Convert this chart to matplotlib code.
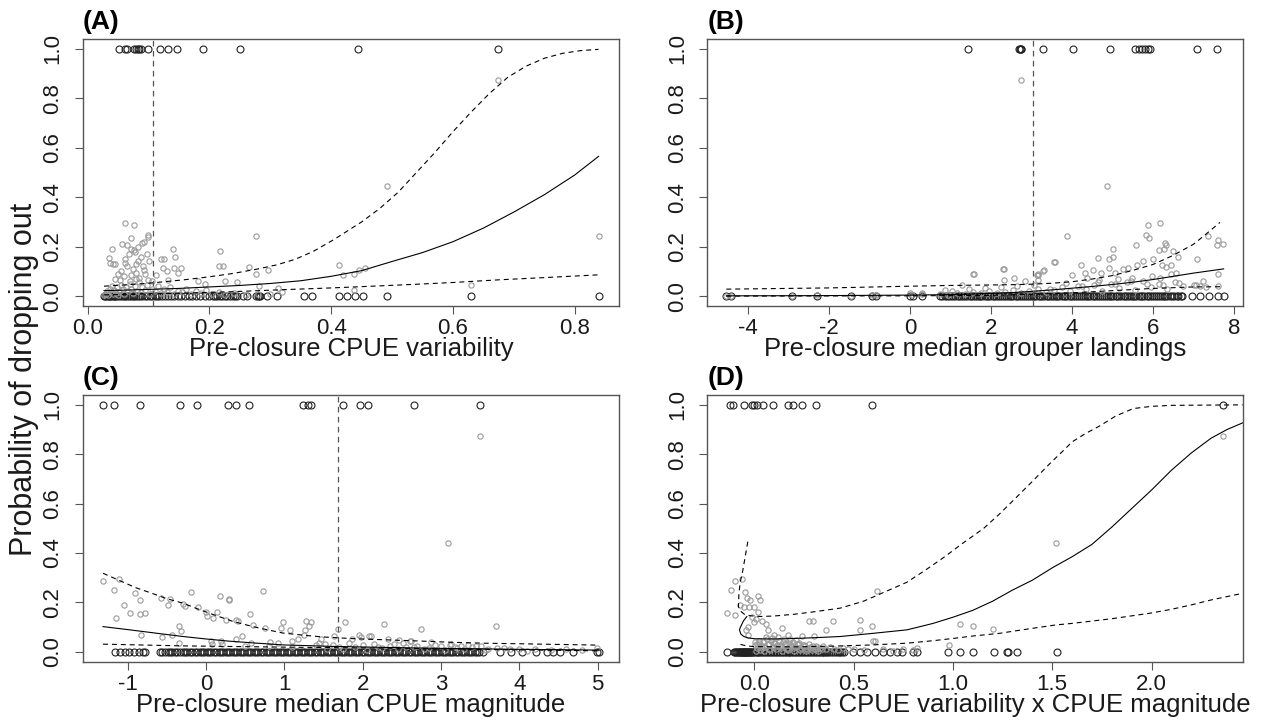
import matplotlib
matplotlib.use("Agg")
import matplotlib.pyplot as plt

plt.rcParams['font.family'] = ['Liberation Sans', 'DejaVu Sans']

# ---------------- Panel A: CPUE variability ----------------
a_obs1_x = [0.052, 0.062, 0.064, 0.076, 0.079, 0.083, 0.085, 0.088, 0.099, 0.119,
            0.132, 0.147, 0.190, 0.251, 0.444, 0.674]
a_obs0_x = [0.027, 0.029, 0.031, 0.033, 0.035, 0.037, 0.039, 0.041, 0.043, 0.045,
            0.047, 0.050, 0.053, 0.056, 0.059, 0.062, 0.065, 0.068, 0.071, 0.074,
            0.077, 0.080, 0.083, 0.086, 0.090, 0.094, 0.098, 0.102, 0.106, 0.110,
            0.114, 0.118, 0.122, 0.127, 0.132, 0.137, 0.142, 0.148, 0.154, 0.160,
            0.166, 0.172, 0.178, 0.185, 0.192, 0.199, 0.206, 0.209, 0.213, 0.217,
            0.221, 0.225, 0.229, 0.234, 0.238, 0.242, 0.246, 0.255, 0.262, 0.276,
            0.279, 0.281, 0.283, 0.295, 0.311, 0.355, 0.368, 0.413, 0.426, 0.439,
            0.453, 0.491, 0.629, 0.839]
a_fit_x = [0.061, 0.077, 0.099, 0.071, 0.057, 0.064, 0.089, 0.040, 0.077, 0.141,
           0.218, 0.276, 0.098, 0.035, 0.061, 0.120, 0.126, 0.144, 0.037, 0.042,
           0.061, 0.080, 0.092, 0.124, 0.130, 0.142, 0.153, 0.215, 0.222, 0.265,
           0.277, 0.297, 0.413, 0.420, 0.438, 0.446, 0.455, 0.491, 0.054, 0.072,
           0.079, 0.099, 0.113, 0.132, 0.148, 0.181, 0.192, 0.226, 0.246, 0.282,
           0.312, 0.438, 0.674, 0.839, 0.629,
           0.045, 0.050, 0.055, 0.060, 0.065, 0.070, 0.075, 0.080, 0.082, 0.085,
           0.088, 0.091, 0.095, 0.100, 0.105, 0.045, 0.068, 0.072, 0.078, 0.083,
           0.093, 0.099,
           0.027, 0.030, 0.032, 0.034, 0.036, 0.038, 0.040, 0.042, 0.044, 0.046,
           0.048, 0.050, 0.052, 0.055, 0.058, 0.060, 0.063, 0.066, 0.069, 0.072,
           0.075, 0.078, 0.081, 0.084, 0.087, 0.090, 0.094, 0.098, 0.102, 0.106,
           0.110, 0.115, 0.120, 0.125, 0.130, 0.136, 0.142, 0.148, 0.155, 0.162,
           0.170, 0.178, 0.186, 0.195, 0.205, 0.215, 0.225, 0.240, 0.260, 0.280,
           0.300, 0.320]
a_fit_y = [0.296, 0.286, 0.248, 0.235, 0.210, 0.205, 0.215, 0.190, 0.187, 0.190,
           0.181, 0.244, 0.171, 0.154, 0.150, 0.150, 0.150, 0.158, 0.134, 0.130,
           0.134, 0.130, 0.104, 0.113, 0.100, 0.113, 0.113, 0.120, 0.120, 0.117,
           0.089, 0.104, 0.125, 0.086, 0.090, 0.104, 0.113, 0.444, 0.066, 0.086,
           0.068, 0.066, 0.086, 0.066, 0.093, 0.063, 0.050, 0.063, 0.055, 0.039,
           0.031, 0.026, 0.876, 0.244, 0.046,
           0.070, 0.090, 0.100, 0.080, 0.120, 0.060, 0.110, 0.095, 0.140, 0.075,
           0.160, 0.120, 0.090, 0.140, 0.060, 0.130, 0.170, 0.190, 0.180, 0.200,
           0.220, 0.240,
           0.003, 0.010, 0.020, 0.006, 0.030, 0.015, 0.040, 0.008, 0.025, 0.012,
           0.035, 0.005, 0.018, 0.045, 0.028, 0.010, 0.038, 0.020, 0.050, 0.030,
           0.012, 0.042, 0.022, 0.055, 0.015, 0.035, 0.025, 0.045, 0.010, 0.030,
           0.020, 0.040, 0.012, 0.028, 0.018, 0.035, 0.008, 0.022, 0.015, 0.030,
           0.010, 0.020, 0.012, 0.025, 0.008, 0.015, 0.005, 0.012, 0.006, 0.010,
           0.008, 0.015]
a_mid_x = [0.027, 0.06, 0.1, 0.15, 0.2, 0.25, 0.3, 0.35, 0.4, 0.45, 0.5, 0.55,
           0.6, 0.65, 0.7, 0.75, 0.8, 0.839]
a_mid_y = [0.022, 0.024, 0.027, 0.031, 0.037, 0.043, 0.051, 0.062, 0.080, 0.103,
           0.140, 0.176, 0.220, 0.275, 0.340, 0.410, 0.490, 0.565]
a_up_x = [0.027, 0.06, 0.1, 0.159, 0.2, 0.24, 0.28, 0.31, 0.34, 0.37, 0.404,
          0.45, 0.48, 0.51, 0.54, 0.57, 0.6, 0.63, 0.66, 0.69, 0.72, 0.75, 0.78,
          0.81, 0.839]
a_up_y = [0.040, 0.045, 0.052, 0.066, 0.078, 0.092, 0.110, 0.126, 0.148, 0.180,
          0.228, 0.300, 0.355, 0.420, 0.500, 0.580, 0.665, 0.745, 0.820, 0.885,
          0.930, 0.962, 0.982, 0.993, 0.998]
a_lo_x = [0.027, 0.1, 0.159, 0.24, 0.322, 0.4, 0.486, 0.55, 0.6, 0.677, 0.76,
          0.839]
a_lo_y = [0.005, 0.009, 0.012, 0.018, 0.026, 0.033, 0.042, 0.049, 0.055, 0.066,
          0.076, 0.086]
a_vline = 0.108

# ---------------- Panel B: median grouper landings ----------------
b_obs1_x = [1.44, 2.70, 2.72, 2.73, 2.74, 3.29, 4.02, 4.94, 5.56, 5.64, 5.72,
            5.80, 5.88, 5.93, 7.08, 7.57]
b_obs0_x = [-4.53, -4.42, -2.91, -2.30, -1.46, -0.93, -0.84, 0.00, 0.07, 0.29,
            0.74, 0.86, 0.97, 1.06, 1.18, 1.27, 1.36, 1.47, 1.55, 1.66, 1.74,
            1.85, 1.93, 2.04, 2.12, 2.23, 2.31, 2.42, 2.50, 2.61, 2.69, 2.80,
            2.88, 2.99, 3.07, 3.18, 3.26, 3.37, 3.45, 3.56, 3.64, 3.75, 3.83,
            3.94, 4.02, 4.13, 4.21, 4.32, 4.40, 4.51, 4.59, 4.70, 4.78, 4.89,
            4.97, 5.08, 5.16, 5.27, 5.35, 5.46, 5.54, 5.65, 5.73, 5.84, 5.92,
            6.03, 6.11, 6.22, 6.30, 6.41, 6.52, 6.72, 6.95, 7.16, 7.37, 7.61, 7.74,
            0.80, 0.91, 1.01, 1.11, 1.22, 1.31, 1.41, 1.51, 1.60, 1.70, 1.79,
            1.89, 1.98, 2.08, 2.17, 2.27, 2.36, 2.46, 2.55, 2.65, 2.74, 2.84,
            2.93, 3.03, 3.12, 3.22, 3.31, 3.41, 3.50, 3.60, 3.69, 3.79, 3.88,
            3.98, 4.07, 4.17, 4.26, 4.36, 4.45, 4.55, 4.64, 4.74, 4.83, 4.93,
            5.02, 5.12, 5.21, 5.31, 5.40, 5.50, 5.59, 5.69, 5.78, 5.88, 5.97,
            6.07, 6.16, 6.26, 6.35, 6.46, 6.58, 6.62, 6.68]
b_fit_x = [2.74, 4.86, 3.87, 5.87, 6.17, 5.82, 5.89, 7.35, 7.61, 7.57, 7.72,
           7.59, 5.58, 6.30, 6.32, 5.02, 4.63, 4.90, 5.02, 6.15, 6.26, 6.48,
           6.61, 5.99, 5.76, 5.60, 3.58, 4.22, 6.23, 6.33, 6.45, 7.08, 5.39,
           5.26, 4.90, 4.72, 5.06, 4.51, 4.31, 3.29, 3.15, 3.99, 4.36, 4.66,
           5.14, 5.47, 5.97, 6.18, 6.45, 6.56, 7.24, 7.16, 1.59, 2.32, 2.57,
           2.32, 2.84, 1.28, 0.86, 0.29, 0.00, 3.13, 3.16, 3.56, 2.30, 1.56,
           3.17, 3.32,
           -4.53, -4.42, -2.91, -2.30, -1.46, -0.93, -0.84, 0.05, 0.30, 0.75,
           0.95, 1.15, 1.35, 1.55, 1.75, 1.95, 2.15, 2.35, 2.55, 2.75, 2.95,
           3.15, 3.35, 3.55, 3.75, 3.95, 4.15, 4.35, 4.55, 4.75, 4.95, 5.15,
           5.35, 5.55, 5.75, 5.95, 6.15, 6.35, 6.55, 6.75, 7.00, 7.30, 7.60,
           1.05, 1.45, 1.85, 2.25, 2.65, 3.05, 3.45, 3.85, 4.25, 4.65, 5.05,
           5.45, 5.85, 6.25, 6.65, 7.05]
b_fit_y = [0.873, 0.444, 0.244, 0.287, 0.294, 0.248, 0.235, 0.244, 0.228, 0.208,
           0.212, 0.089, 0.206, 0.214, 0.206, 0.190, 0.154, 0.150, 0.158, 0.187,
           0.190, 0.181, 0.160, 0.150, 0.140, 0.127, 0.136, 0.125, 0.125, 0.119,
           0.127, 0.150, 0.113, 0.108, 0.113, 0.093, 0.093, 0.104, 0.093, 0.100,
           0.085, 0.085, 0.072, 0.066, 0.068, 0.072, 0.080, 0.072, 0.089, 0.094,
           0.059, 0.039, 0.090, 0.110, 0.073, 0.066, 0.059, 0.043, 0.026, 0.012,
           0.012, 0.086, 0.066, 0.136, 0.110, 0.090, 0.090, 0.104,
           0.000, 0.000, 0.002, 0.003, 0.002, 0.004, 0.006, 0.005, 0.008, 0.010,
           0.006, 0.012, 0.009, 0.015, 0.011, 0.020, 0.014, 0.018, 0.025, 0.012,
           0.022, 0.030, 0.016, 0.026, 0.035, 0.020, 0.040, 0.028, 0.045, 0.022,
           0.050, 0.032, 0.055, 0.026, 0.060, 0.038, 0.048, 0.030, 0.058, 0.040,
           0.045, 0.035, 0.042,
           0.020, 0.028, 0.032, 0.036, 0.040, 0.044, 0.030, 0.052, 0.040, 0.056,
           0.048, 0.062, 0.050, 0.044, 0.054, 0.046]
b_mid_x = [-4.53, -3.0, -2.0, -1.0, 0.0, 1.0, 1.5, 2.0, 2.5, 3.0, 3.5, 4.0, 4.5,
           5.0, 5.5, 6.0, 6.5, 7.0, 7.74]
b_mid_y = [0.001, 0.0015, 0.002, 0.003, 0.004, 0.006, 0.008, 0.011, 0.014, 0.019,
           0.025, 0.032, 0.039, 0.047, 0.056, 0.067, 0.080, 0.093, 0.110]
b_up_x = [-4.53, -2.0, 0.0, 1.0, 2.0, 2.5, 3.0, 3.5, 4.0, 4.5, 5.0, 5.5, 6.0,
          6.5, 7.0, 7.3, 7.65]
b_up_y = [0.028, 0.033, 0.040, 0.043, 0.045, 0.046, 0.048, 0.052, 0.058, 0.069,
          0.083, 0.104, 0.128, 0.165, 0.210, 0.250, 0.298]
b_lo_x = [-4.53, 0.0, 2.0, 3.0, 4.0, 5.0, 6.0, 7.0, 7.74]
b_lo_y = [0.000, 0.001, 0.003, 0.007, 0.013, 0.022, 0.031, 0.037, 0.038]
b_vline = 3.04

# ---------------- Panel C: median CPUE magnitude ----------------
c_obs1_x = [-1.31, -1.18, -0.84, -0.33, -0.11, 0.28, 0.38, 0.55, 1.24, 1.30,
            1.34, 1.75, 1.97, 2.07, 2.66, 3.50]
c_obs0_x = [-1.16, -1.10, -1.04, -0.98, -0.92, -0.86, -0.80, -0.78, -0.59, -0.52,
            -0.46, -0.40, -0.33, -0.27, -0.21, -0.14, -0.08, -0.02, 0.04, 0.10,
            0.16, 0.22, 0.28, 0.34, 0.40, 0.46, 0.52, 0.58, 0.64, 0.70, 0.76,
            0.82, 0.88, 0.94, 1.00, 1.06, 1.12, 1.18, 1.24, 1.30, 1.36, 1.42,
            1.48, 1.54, 1.60, 1.66, 1.72, 1.78, 1.84, 1.90, 1.96, 2.02, 2.08,
            2.14, 2.20, 2.26, 2.32, 2.38, 2.44, 2.50, 2.56, 2.62, 2.68, 2.74,
            2.80, 2.86, 2.92, 2.98, 3.04, 3.10, 3.16, 3.22, 3.28, 3.34, 3.40,
            3.46, 3.54, 3.75, 3.90, 4.04, 4.22, 4.35, 4.43, 4.52, 4.69, 4.99, 5.02,
            -0.56, -0.49, -0.43, -0.37, -0.30, -0.24, -0.18, -0.11, -0.05, 0.01,
            0.07, 0.13, 0.19, 0.25, 0.31, 0.37, 0.43, 0.49, 0.55, 0.61, 0.67,
            0.73, 0.79, 0.85, 0.91, 0.97, 1.03, 1.09, 1.15, 1.21, 1.27, 1.33,
            1.39, 1.45, 1.51, 1.57, 1.63, 1.69, 1.75, 1.81, 1.87, 1.93, 1.99,
            2.05, 2.11, 2.17, 2.23, 2.29, 2.35, 2.41, 2.47, 2.53, 2.59, 2.65,
            2.71, 2.77, 2.83, 2.89, 2.95, 3.01, 3.07, 3.13, 3.19, 3.25, 3.31,
            3.37, 3.43, 3.49]
c_fit_x = [3.50, 3.09, 3.70, 2.74, -1.315, -1.115, -1.18, -0.91, -0.84, -1.05,
           -0.97, -0.84, -0.78, -1.15, -0.83, -0.57, -0.46, -0.48, -0.19, -0.29,
           -0.27, -0.10, 0.175, 0.29, 0.30, 0.00, 0.01, 0.09, 0.14, 0.26, 0.38,
           0.41, 0.56, 0.73, 0.60, 0.75, 0.98, 1.07, 0.96, 1.28, 1.34, 1.32,
           1.26, 1.25, 1.47, 1.64, 1.69, 1.77, 1.96, 2.27, 2.08, -0.34, -0.32,
           -0.43, -0.56, -0.34, 0.06, 0.08, 0.19, 0.38, 0.46, 0.58, 0.82, 0.92,
           1.10, 1.18, 1.44, 1.52, 1.86, 1.98, 2.11, 2.32, 2.47, 2.62, 2.87,
           3.13, 3.34, 3.51, 2.60, 3.12, 3.25, 4.99,
           0.20, 0.50, 0.80, 1.10, 1.40, 1.70, 2.00, 2.20, 2.40, 2.55, 2.70,
           2.85, 3.00, 3.20, 3.40, 3.60, 3.80, 4.00, 4.20, 4.40, 4.60, 4.80,
           1.55, 1.62, 1.75, 1.82, 1.90, 2.05, 2.15, 2.25, 2.35, 2.45, 2.52,
           2.65, 2.78, 2.92, 3.05, 3.18, 3.30, 3.45, 3.58, 3.72, 3.88, 4.10]
c_fit_y = [0.873, 0.442, 0.105, 0.092, 0.288, 0.294, 0.251, 0.237, 0.208, 0.190,
           0.159, 0.153, 0.157, 0.136, 0.069, 0.217, 0.212, 0.190, 0.244, 0.193,
           0.184, 0.181, 0.226, 0.213, 0.208, 0.160, 0.143, 0.136, 0.160, 0.128,
           0.129, 0.123, 0.152, 0.247, 0.108, 0.096, 0.119, 0.090, 0.096, 0.125,
           0.119, 0.106, 0.088, 0.070, 0.052, 0.066, 0.093, 0.120, 0.068, 0.112,
           0.063, 0.105, 0.086, 0.070, 0.060, 0.036, 0.045, 0.032, 0.045, 0.052,
           0.063, 0.036, 0.038, 0.036, 0.045, 0.052, 0.036, 0.030, 0.052, 0.058,
           0.065, 0.052, 0.048, 0.045, 0.038, 0.032, 0.028, 0.022, 0.042, 0.028,
           0.024, 0.015,
           0.030, 0.025, 0.022, 0.020, 0.026, 0.018, 0.028, 0.020, 0.032, 0.018,
           0.025, 0.014, 0.022, 0.016, 0.020, 0.012, 0.015, 0.010, 0.013, 0.009,
           0.011, 0.008,
           0.010, 0.028, 0.012, 0.035, 0.018, 0.008, 0.030, 0.015, 0.025, 0.010,
           0.036, 0.020, 0.012, 0.028, 0.008, 0.020, 0.012, 0.024, 0.006, 0.014,
           0.010, 0.005]
c_mid_x = [-1.315, -1.0, -0.6, -0.294, 0.0, 0.3, 0.65, 0.983, 1.3, 1.6, 2.26,
           3.0, 4.0, 5.02]
c_mid_y = [0.102, 0.090, 0.074, 0.062, 0.052, 0.043, 0.035, 0.028, 0.025, 0.022,
           0.018, 0.014, 0.010, 0.007]
c_up_x = [-1.315, -1.1, -0.9, -0.7, -0.5, -0.294, -0.1, 0.1, 0.345, 0.6, 0.8,
          0.983, 1.25, 1.5, 1.9, 2.26, 2.7, 3.1, 3.54, 4.3, 5.02]
c_up_y = [0.318, 0.288, 0.260, 0.238, 0.215, 0.197, 0.173, 0.150, 0.123, 0.102,
          0.088, 0.076, 0.067, 0.060, 0.053, 0.049, 0.044, 0.039, 0.035, 0.031,
          0.027]
c_lo_x = [-1.315, -0.3, 0.983, 2.26, 3.5, 5.02]
c_lo_y = [0.031, 0.024, 0.019, 0.015, 0.010, 0.004]
c_vline = 1.686

# ---------------- Panel D: variability x magnitude ----------------
d_obs1_x = [-0.122, -0.106, -0.052, -0.013, -0.002, 0.015, 0.042, 0.096, 0.171,
            0.196, 0.239, 0.309, 0.594, 2.359]
d_obs0_x = [-0.137, -0.104, -0.087, -0.078, -0.070, -0.063, -0.056, -0.050,
            -0.044, -0.038, -0.032, -0.028, -0.020, -0.010, 0.000, 0.012, 0.025,
            0.040, 0.055, 0.070, 0.085, 0.100, 0.115, 0.130, 0.145, 0.160, 0.175,
            0.190, 0.205, 0.220, 0.235, 0.250, 0.265, 0.280, 0.295, 0.310, 0.325,
            0.340, 0.347, 0.360, 0.375, 0.398, 0.415, 0.432, 0.450, 0.498, 0.532,
            0.566, 0.608, 0.650, 0.683, 0.717, 0.742, 0.801, 0.818, 0.977, 1.036,
            1.103, 1.207, 1.271, 1.279, 1.321, 1.523,
            -0.098, -0.092, -0.083, -0.074, -0.066, -0.059, -0.053, -0.047,
            -0.041, -0.035, -0.024, -0.016, -0.006, 0.006, 0.018, 0.032, 0.047,
            0.062, 0.077, 0.092, 0.107, 0.122, 0.137, 0.152, 0.167, 0.182,
            0.197, 0.212, 0.227, 0.242, 0.257, 0.272, 0.287, 0.302, 0.317,
            0.332, 0.352, 0.368, 0.385, 0.405, 0.425, 0.440]
d_fit_x = [2.36, 1.52, -0.137, -0.117, -0.096, -0.062, -0.045, -0.096, -0.037,
           -0.020, 0.019, 0.030, -0.073, -0.050, -0.025, 0.000, 0.020, -0.010,
           0.010, 0.040, 0.060, 0.000, -0.030, 0.070, 0.140, 0.100, 0.170,
           -0.030, -0.040, 0.274, 0.296, 0.396, 0.534, 0.530, 0.593, 0.618,
           0.362, 0.240, 0.300, 0.600, 0.980, 1.034, 1.100, 1.200, 0.610,
           0.005, 0.015, 0.025, 0.035, 0.045, 0.055, 0.065, 0.075, 0.085, 0.095,
           0.105, 0.115, 0.125, 0.135, 0.145, 0.155, 0.165, 0.175, 0.185, 0.195,
           0.205, 0.215, 0.225, 0.235, 0.245, 0.255, 0.265, 0.275, 0.285, 0.295,
           0.305, 0.315, 0.330, 0.345, 0.360, 0.380, 0.400, 0.420, 0.445, 0.470,
           0.500, 0.550, 0.650, 0.700, 0.750, 0.800, 0.820,
           0.010, 0.030, 0.050, 0.080, 0.110, 0.140, 0.170, 0.200, 0.230, 0.260,
           0.290, 0.320, 0.060, 0.090, 0.120, 0.150, 0.180, 0.210,
           0.002, 0.022, 0.042, 0.068, 0.098, 0.128, 0.158, 0.188, 0.218, 0.248,
           0.278, 0.308, 0.012, 0.038, 0.072, 0.104, 0.136, 0.166, 0.196, 0.226,
           0.256, 0.286, 0.316, 0.340]
d_fit_y = [0.873, 0.442, 0.159, 0.251, 0.288, 0.294, 0.244, 0.150, 0.217,
           0.210, 0.226, 0.210, 0.190, 0.180, 0.180, 0.180, 0.160, 0.140, 0.133,
           0.126, 0.113, 0.120, 0.100, 0.089, 0.095, 0.069, 0.069, 0.069, 0.089,
           0.123, 0.123, 0.123, 0.129, 0.089, 0.105, 0.247, 0.089, 0.062, 0.062,
           0.042, 0.028, 0.112, 0.105, 0.092, 0.042,
           0.040, 0.030, 0.045, 0.025, 0.038, 0.020, 0.050, 0.032, 0.042, 0.018,
           0.035, 0.028, 0.045, 0.022, 0.038, 0.030, 0.015, 0.036, 0.026, 0.040,
           0.020, 0.030, 0.035, 0.016, 0.028, 0.022, 0.012, 0.032, 0.018, 0.025,
           0.010, 0.020, 0.015, 0.024, 0.010, 0.018, 0.012, 0.008, 0.015, 0.010,
           0.012, 0.008, 0.010, 0.005, 0.012, 0.008, 0.015,
           0.005, 0.008, 0.004, 0.006, 0.010, 0.005, 0.008, 0.004, 0.007, 0.005,
           0.006, 0.004, 0.060, 0.055, 0.058, 0.050, 0.052, 0.048,
           0.028, 0.034, 0.024, 0.030, 0.036, 0.026, 0.032, 0.022, 0.030, 0.026,
           0.020, 0.024, 0.014, 0.016, 0.012, 0.018, 0.014, 0.010, 0.016, 0.012,
           0.010, 0.014, 0.010, 0.012]
d_mid_x = [-0.038, -0.055, -0.070, -0.075, -0.068, -0.053, -0.030, 0.0, 0.1,
           0.2, 0.3, 0.433, 0.6, 0.769, 0.9, 1.0, 1.1, 1.2, 1.3, 1.4, 1.5, 1.6,
           1.7, 1.8, 1.9, 2.0, 2.1, 2.2, 2.3, 2.38, 2.459]
d_mid_y = [0.143, 0.125, 0.100, 0.089, 0.072, 0.062, 0.056, 0.053, 0.052, 0.054,
           0.057, 0.062, 0.075, 0.089, 0.115, 0.140, 0.168, 0.205, 0.250, 0.290,
           0.340, 0.385, 0.435, 0.505, 0.580, 0.655, 0.735, 0.805, 0.865, 0.900,
           0.927]
d_up_x = [-0.033, -0.045, -0.058, -0.072, -0.078, -0.080, -0.070, -0.050,
          -0.022, 0.03, 0.1, 0.2, 0.3, 0.433, 0.55, 0.65, 0.769, 0.86, 0.95,
          1.05, 1.155, 1.237, 1.3, 1.4, 1.489, 1.55, 1.6, 1.67, 1.74, 1.82,
          1.908, 2.0, 2.1, 2.459]
d_up_y = [0.446, 0.390, 0.330, 0.278, 0.230, 0.183, 0.165, 0.152, 0.146, 0.143,
          0.145, 0.152, 0.162, 0.177, 0.205, 0.240, 0.282, 0.330, 0.380, 0.440,
          0.500, 0.560, 0.610, 0.690, 0.763, 0.810, 0.850, 0.885, 0.915, 0.955,
          0.985, 0.994, 0.998, 1.000]
d_lo_x = [-0.070, -0.040, 0.0, 0.2, 0.4, 0.6, 0.769, 0.9, 1.0, 1.1, 1.237, 1.3,
          1.4, 1.52, 1.6, 1.8, 1.99, 2.1, 2.2, 2.3, 2.459]
d_lo_y = [0.030, 0.024, 0.021, 0.020, 0.023, 0.028, 0.035, 0.045, 0.054, 0.064,
          0.075, 0.083, 0.095, 0.109, 0.115, 0.134, 0.156, 0.172, 0.190, 0.210,
          0.237]

panels = [
    dict(tag='(A)', xlabel='Pre-closure CPUE variability', xlim=(-0.0076, 0.8726),
         xticks=[0.0, 0.2, 0.4, 0.6, 0.8], xfmt='{:.1f}',
         obs1=a_obs1_x, obs0=a_obs0_x, fx=a_fit_x, fy=a_fit_y,
         mid=(a_mid_x, a_mid_y), up=(a_up_x, a_up_y), lo=(a_lo_x, a_lo_y),
         vline=a_vline, pos=[0.0657, 0.5768, 0.4244, 0.3693]),
    dict(tag='(B)', xlabel='Pre-closure median grouper landings', xlim=(-5.0, 8.21),
         xticks=[-4, -2, 0, 2, 4, 6, 8], xfmt='{:d}',
         obs1=b_obs1_x, obs0=b_obs0_x, fx=b_fit_x, fy=b_fit_y,
         mid=(b_mid_x, b_mid_y), up=(b_up_x, b_up_y), lo=(b_lo_x, b_lo_y),
         vline=b_vline, pos=[0.5600, 0.5768, 0.4239, 0.3693]),
    dict(tag='(C)', xlabel='Pre-closure median CPUE magnitude', xlim=(-1.571, 5.274),
         xticks=[-1, 0, 1, 2, 3, 4, 5], xfmt='{:d}',
         obs1=c_obs1_x, obs0=c_obs0_x, fx=c_fit_x, fy=c_fit_y,
         mid=(c_mid_x, c_mid_y), up=(c_up_x, c_up_y), lo=(c_lo_x, c_lo_y),
         vline=c_vline, pos=[0.0657, 0.0848, 0.4244, 0.3689]),
    dict(tag='(D)', xlabel='Pre-closure CPUE variability x CPUE magnitude',
         xlim=(-0.237, 2.459), xticks=[0.0, 0.5, 1.0, 1.5, 2.0], xfmt='{:.1f}',
         obs1=d_obs1_x, obs0=d_obs0_x, fx=d_fit_x, fy=d_fit_y,
         mid=(d_mid_x, d_mid_y), up=(d_up_x, d_up_y), lo=(d_lo_x, d_lo_y),
         vline=None, pos=[0.5600, 0.0848, 0.4239, 0.3689]),
]

yticks = [0.0, 0.2, 0.4, 0.6, 0.8, 1.0]
frame_col = '#555555'
dash = (0, (4.5, 3.5))

fig = plt.figure(figsize=(12.63, 7.23), dpi=100)

for p in panels:
    ax = fig.add_axes(p['pos'])
    ax.plot(p['obs1'], [1.0] * len(p['obs1']), 'o', mfc='none', mec='#222222',
            ms=5.0, mew=0.8, ls='none')
    ax.plot(p['obs0'], [0.0] * len(p['obs0']), 'o', mfc='none', mec='#222222',
            ms=5.0, mew=0.8, ls='none')
    ax.plot(p['fx'], p['fy'], 'o', mfc='none', mec='#9a9a9a', ms=3.8, mew=0.8,
            ls='none')
    ax.plot(p['mid'][0], p['mid'][1], color='black', lw=0.8)
    ax.plot(p['up'][0], p['up'][1], color='black', lw=0.8, ls=dash)
    ax.plot(p['lo'][0], p['lo'][1], color='black', lw=0.8, ls=dash)
    if p['vline'] is not None:
        ax.axvline(p['vline'], color='#555555', lw=0.9, ls=(0, (4.5, 3.5)))

    ax.set_xlim(*p['xlim'])
    ax.set_ylim(-0.04, 1.04)
    ax.set_xticks(p['xticks'])
    ax.set_xticklabels([p['xfmt'].format(t) for t in p['xticks']])
    ax.set_yticks(yticks)
    ax.set_yticklabels(['{:.1f}'.format(t) for t in yticks])
    ax.tick_params(axis='both', direction='out', length=6, width=0.8,
                   color=frame_col, labelsize=16, labelcolor='#1a1a1a')
    ax.tick_params(axis='x', pad=3)
    ax.tick_params(axis='y', pad=8)
    for lab in ax.get_yticklabels():
        lab.set_rotation(90)
        lab.set_va('center')
    for s in ax.spines.values():
        s.set_color(frame_col)
        s.set_linewidth(1.0)

    ax.set_xlabel(p['xlabel'], fontsize=18.5, color='#1a1a1a')
    ax.xaxis.set_label_coords(0.5, -0.118)
    ax.text(0.0, 1.036, p['tag'], transform=ax.transAxes, fontsize=19,
            fontweight='bold', ha='left', va='baseline')

fig.text(0.019, 0.475, 'Probability of dropping out', rotation=90,
         fontsize=22, ha='center', va='center', color='#1a1a1a')

fig.savefig('out.png', dpi=100)
